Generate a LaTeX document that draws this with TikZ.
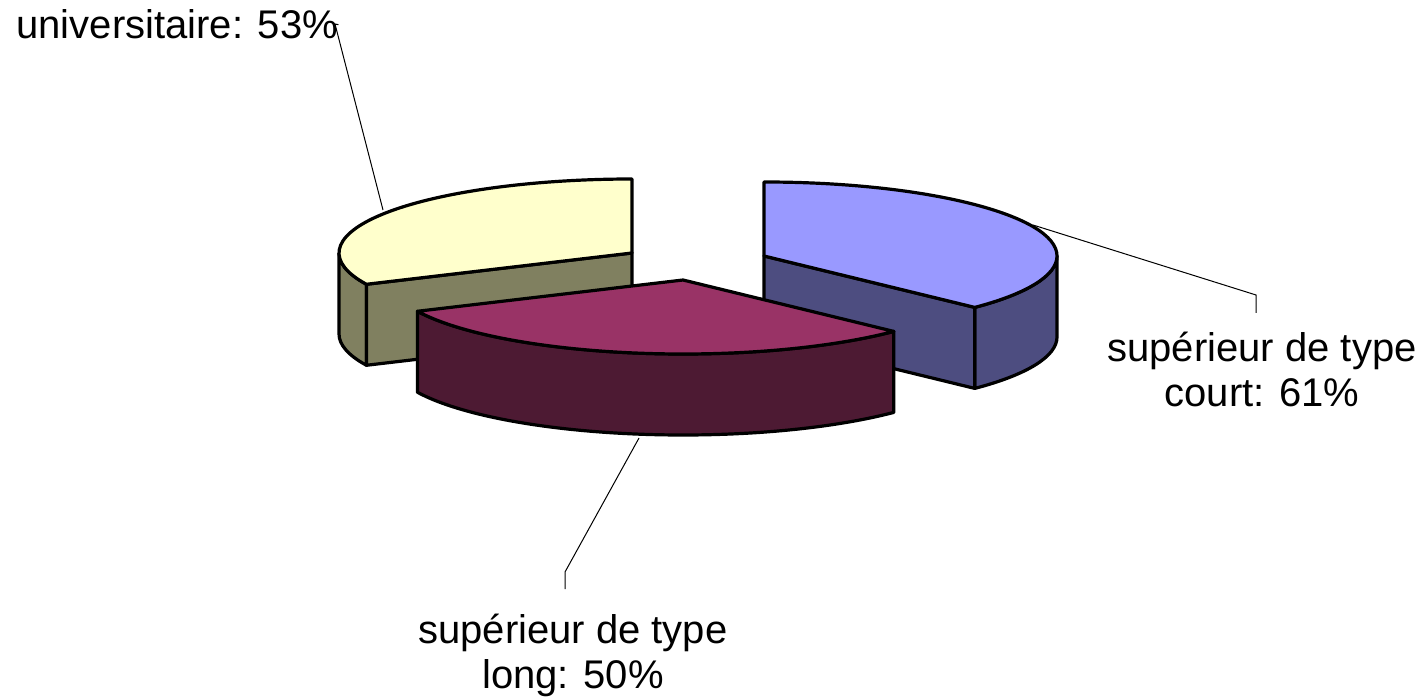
\documentclass[tikz,border=0pt]{standalone}
\usepackage{fontspec}
\setmainfont{Liberation Sans}
\usetikzlibrary{calc}
\definecolor{uniTop}{HTML}{FFFFCC}
\definecolor{uniSide}{HTML}{808060}
\definecolor{courtTop}{HTML}{9999FF}
\definecolor{courtSide}{HTML}{4D4D80}
\definecolor{longTop}{HTML}{993366}
\definecolor{longSide}{HTML}{4D1A33}
\begin{document}
\begin{tikzpicture}[x = 0.5pt, y = 0.5pt,
  every node/.style = {align=center, inner sep=0pt, font=\fontsize{20}{22.5}\selectfont},
  pie/.style = {x radius=293, y radius=74},
  slice/.style = {draw=black, line width=1.6pt, line join=round},
  leader/.style = {draw=black, line width=0.5pt}]
 \useasboundingbox (0,0) rectangle (1427,-699);
 \coordinate (uc) at (632,-253);
 \coordinate (cc) at (764,-256);
 \coordinate (lc) at (683,-280);
 % universitaire
 \filldraw[slice, fill=uniSide] ($(uc)+(180:293 and 74)$) arc[pie, start angle=180, end angle=205]
    -- ++(0,-81) arc[pie, start angle=205, end angle=180] -- cycle;
 \filldraw[slice, fill=uniSide] (uc) -- ($(uc)+(205:293 and 74)$) -- ++(0,-81) -- ($(uc)+(0,-81)$) -- cycle;
 \filldraw[slice, fill=uniTop] (uc) -- ($(uc)+(90:293 and 74)$) arc[pie, start angle=90, end angle=205] -- cycle;
 % court
 \filldraw[slice, fill=courtSide] ($(cc)+(0:293 and 74)$) arc[pie, start angle=0, end angle=-44]
    -- ++(0,-81) arc[pie, start angle=-44, end angle=0] -- cycle;
 \filldraw[slice, fill=courtSide] (cc) -- ($(cc)+(-44:293 and 74)$) -- ++(0,-81) -- ($(cc)+(0,-81)$) -- cycle;
 \filldraw[slice, fill=courtTop] (cc) -- ($(cc)+(90:293 and 74)$) arc[pie, start angle=90, end angle=-44] -- cycle;
 % long
 \filldraw[slice, fill=longSide] ($(lc)+(205:293 and 74)$) arc[pie, start angle=205, end angle=316]
    -- ++(0,-81) arc[pie, start angle=316, end angle=205] -- cycle;
 \filldraw[slice, fill=longTop] (lc) -- ($(lc)+(205:293 and 74)$) arc[pie, start angle=205, end angle=316] -- cycle;

 \node (lblUni) [anchor=base west] at (16,-39) {universitaire: 53\%};
 \node (lblCourt) [anchor=base] at (1262,-407) {supérieur de type \\ court: 61\%};
 \node (lblLong) [anchor=base] at (573,-688) {supérieur de type \\ long: 50\%};

 \coordinate (uniTip) at (383,-210);
 \coordinate (uniKnee) at (335,-24);
 \coordinate (courtTip) at (1033,-225);
 \coordinate (courtKnee) at (1256,-295);
 \coordinate (courtEnd) at (1256,-313);
 \coordinate (longTip) at (639,-438);
 \coordinate (longKnee) at (565,-572);
 \coordinate (longEnd) at (565,-589);
 \draw[leader] (uniTip) -- (uniKnee) -- (lblUni.east);
 \draw[leader] (courtTip) -- (courtKnee) -- (courtEnd);
 \draw[leader] (longTip) -- (longKnee) -- (longEnd);
\end{tikzpicture}
\end{document}
